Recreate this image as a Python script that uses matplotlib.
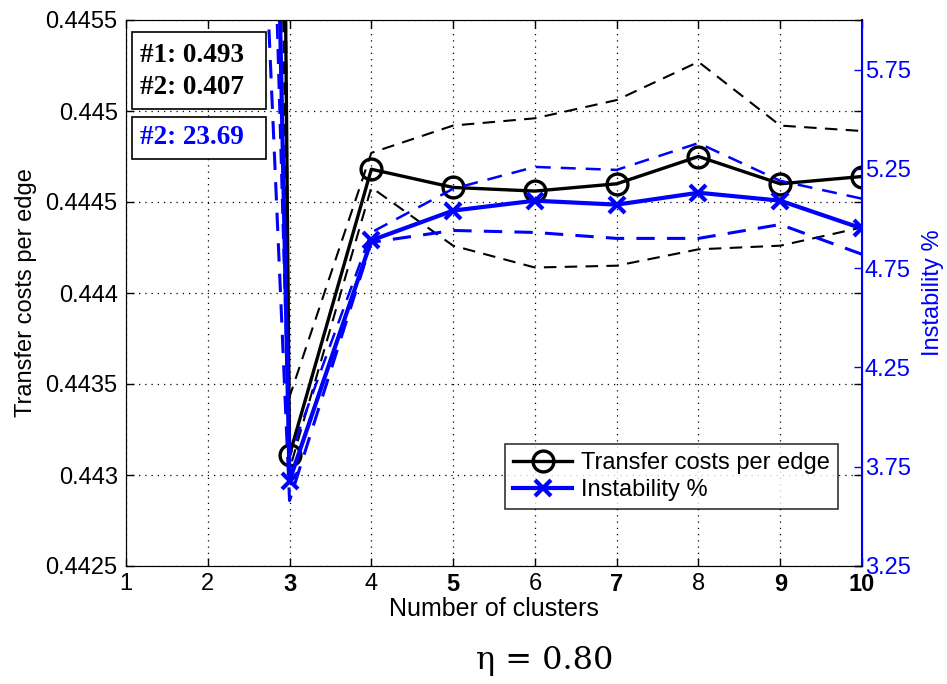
import numpy as np
import matplotlib
matplotlib.use('Agg')
import matplotlib.pyplot as plt
from matplotlib.patches import Rectangle

plt.rcParams['font.family'] = ['Liberation Sans', 'DejaVu Sans']

clusters = [2, 3, 4, 5, 6, 7, 8, 9, 10]

# transfer costs per edge (left axis)
cost_mean = [0.493, 0.44311, 0.44468, 0.44458, 0.44456, 0.44460, 0.44475, 0.44460, 0.44464]
cost_upper = [0.470, 0.44343, 0.44477, 0.44492, 0.44496, 0.44506, 0.44527, 0.44492, 0.44489]
cost_lower = [0.500, 0.44303, 0.44458, 0.44426, 0.44414, 0.44415, 0.44424, 0.44426, 0.44436]

# instability % (right axis)
inst_mean = [23.69, 3.68, 4.89, 5.04, 5.09, 5.07, 5.13, 5.09, 4.95]
inst_upper = [18.0, 3.80, 4.93, 5.15, 5.26, 5.245, 5.38, 5.19, 5.10]
inst_lower = [13.0, 3.58, 4.88, 4.94, 4.93, 4.90, 4.90, 4.97, 4.82]

left_ticks = [0.4425, 0.443, 0.4435, 0.444, 0.4445, 0.445, 0.4455]
left_labels = ['0.4425', '0.443', '0.4435', '0.444', '0.4445', '0.445', '0.4455']
right_ticks = [3.25, 3.75, 4.25, 4.75, 5.25, 5.75]
x_ticks = [1, 2, 3, 4, 5, 6, 7, 8, 9, 10]
bold_x = [3, 5, 7, 9, 10]

fig = plt.figure(figsize=(9.47, 6.84), dpi=100)
ax = fig.add_axes([126/947, 1 - 566/684, 736/947, 546/684])
ax2 = ax.twinx()

fs = 17

# black series
ax.plot(clusters, cost_upper, 'k--', lw=1.5, dashes=(6, 4))
ax.plot(clusters, cost_lower, 'k--', lw=1.5, dashes=(6, 4))
l1, = ax.plot(clusters, cost_mean, 'k-', lw=2.4, marker='o', ms=15,
              mfc='none', mew=2.4, label='Transfer costs per edge')

# blue series
ax2.plot(clusters, inst_upper, '--', color='blue', lw=1.8, dashes=(6, 4))
ax2.plot(clusters, inst_lower, '--', color='blue', lw=2.2, dashes=(6, 4))
l2, = ax2.plot(clusters, inst_mean, '-', color='blue', lw=3, marker='x', ms=12,
               mew=3, label='Instability %')

ax.set_xlim(1, 10)
ax.set_ylim(0.4425, 0.4455)
ax2.set_ylim(3.25, 6.0)

ax.set_xticks(x_ticks)
ax.set_xticklabels([str(v) for v in x_ticks], fontsize=fs)
for lab, v in zip(ax.get_xticklabels(), x_ticks):
    if v in bold_x:
        lab.set_fontweight('bold')
ax.set_yticks(left_ticks)
ax.set_yticklabels(left_labels, fontsize=fs)
ax.tick_params(direction='in', top=True, right=True, length=6, width=1, pad=6)
ax.tick_params(axis='x', pad=5)

ax2.set_yticks(right_ticks)
ax2.set_yticklabels(['%.2f' % v for v in right_ticks], fontsize=fs, color='blue')
ax2.tick_params(direction='in', colors='blue', length=6, width=1, pad=2)
ax2.spines['right'].set_color('blue')
ax2.spines['right'].set_linewidth(1.5)
for s in ['left', 'top', 'bottom']:
    ax.spines[s].set_color('#333333')

ax.grid(True, linestyle=(0, (1, 4)), color='black', lw=0.9)

ax.set_xlabel('Number of clusters', fontsize=18, labelpad=1)
ax.set_ylabel('Transfer costs per edge', fontsize=fs, labelpad=6)
ax2.set_ylabel('Instability %', fontsize=fs, color='blue', labelpad=8)

leg = ax2.legend([l1, l2], ['Transfer costs per edge', 'Instability %'],
                 loc='lower left', bbox_to_anchor=(0.515, 0.104), fontsize=fs,
                 frameon=True, fancybox=False, edgecolor='black',
                 handlelength=2.5, borderpad=0.35, labelspacing=0.2,
                 handletextpad=0.35, borderaxespad=0)
leg.get_frame().set_linewidth(1.2)

# annotation boxes with fixed size
for y0, h in [(0.837, 0.141), (0.745, 0.077)]:
    ax.add_patch(Rectangle((0.008, y0), 0.182, h, transform=ax.transAxes,
                           fc='white', ec='black', lw=1.2, zorder=5))
ax.text(0.019, 0.906, '#1: 0.493\n#2: 0.407', transform=ax.transAxes,
        family='Liberation Serif', fontweight='bold', fontsize=19.5,
        va='center', ha='left', linespacing=1.4, zorder=6)
ax.text(0.019, 0.784, '#2: 23.69', transform=ax.transAxes,
        family='Liberation Serif', fontweight='bold', fontsize=19.5, color='blue',
        va='center', ha='left', zorder=6)

fig.text(0.575, 0.034, 'η = 0.80', family='DejaVu Serif', fontsize=23,
         ha='center', va='center')

fig.savefig('out.png', dpi=100)
